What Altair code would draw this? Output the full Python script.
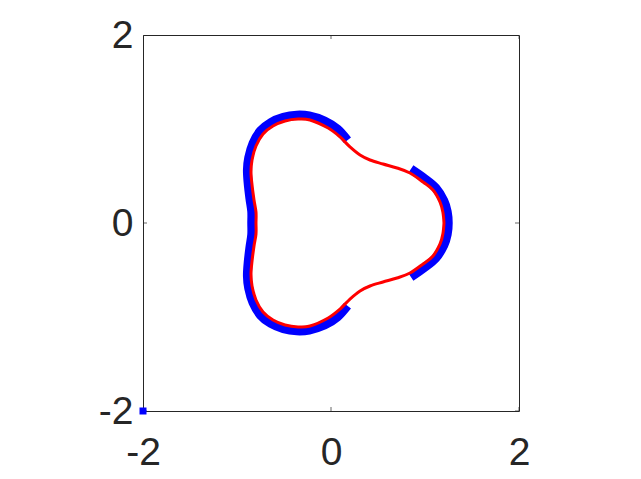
import altair as alt
import pandas as pd

# Red closed curve, counter-clockwise from right tip
red_x = [1.202, 1.190, 1.160, 1.085, 0.979, 0.840, 0.702, 0.553, 0.415, 0.309, 0.202, 0.096,
         -0.030, -0.223, -0.351, -0.489, -0.617, -0.723, -0.798, -0.840, -0.851, -0.840, -0.819,
         -0.798, -0.798,
         -0.798, -0.819, -0.840, -0.851, -0.840, -0.798, -0.723, -0.617, -0.489, -0.351, -0.223,
         -0.030, 0.096, 0.202, 0.309, 0.415, 0.553, 0.702, 0.840, 0.979, 1.085, 1.160, 1.190, 1.202]
red_y = [0.0, 0.117, 0.223, 0.351, 0.436, 0.532, 0.585, 0.628, 0.670, 0.723, 0.809, 0.915,
         1.010, 1.096, 1.106, 1.085, 1.032, 0.947, 0.819, 0.670, 0.543, 0.404, 0.245,
         0.117, 0.0,
         -0.117, -0.245, -0.404, -0.543, -0.670, -0.819, -0.947, -1.032, -1.085, -1.106, -1.096,
         -1.010, -0.915, -0.809, -0.723, -0.670, -0.628, -0.585, -0.532, -0.436, -0.351, -0.223,
         -0.117, 0.0]

# Blue bands (two arcs) just outside the red curve
blueA_x = [0.175, 0.067, -0.067, -0.232, -0.365, -0.507, -0.640, -0.750, -0.829, -0.875, -0.889,
           -0.881, -0.862, -0.843, -0.843, -0.843, -0.862, -0.881, -0.889, -0.875, -0.829, -0.750,
           -0.640, -0.507, -0.365, -0.232, -0.067, 0.067, 0.175]
blueA_y = [0.880, 1.000, 1.085, 1.138, 1.147, 1.124, 1.069, 0.981, 0.849, 0.696, 0.565,
           0.421, 0.256, 0.122, 0.0, -0.122, -0.256, -0.421, -0.565, -0.696, -0.849, -0.981,
           -1.069, -1.124, -1.147, -1.138, -1.085, -1.000, -0.880]
blueB_x = [0.850, 0.992, 1.115, 1.200, 1.236, 1.247, 1.236, 1.200, 1.115, 0.992, 0.850]
blueB_y = [0.575, 0.476, 0.373, 0.238, 0.122, 0.0, -0.122, -0.238, -0.373, -0.476, -0.575]

# Single marker at the corner
pt_x = [-2.0]
pt_y = [-2.0]

tick_vals = [-2, 0, 2]

red_df = pd.DataFrame({"x": red_x, "y": red_y, "k": list(range(len(red_x)))})
blue_df = pd.concat([
    pd.DataFrame({"x": blueA_x, "y": blueA_y, "k": list(range(len(blueA_x))), "seg": "A"}),
    pd.DataFrame({"x": blueB_x, "y": blueB_y, "k": list(range(len(blueB_x))), "seg": "B"}),
])
pt_df = pd.DataFrame({"x": pt_x, "y": pt_y})

txt = "#262626"
xscale = alt.Scale(domain=[-2, 2], nice=False, zero=False)
yscale = alt.Scale(domain=[-2, 2], nice=False, zero=False)
xaxis = alt.Axis(values=tick_vals, title=None, grid=False, domain=False, ticks=False,
                 labelFontSize=39, labelFont="Liberation Sans", labelColor=txt,
                 labelPadding=22, labelFlush=False, labelExpr="'' + datum.value")
yaxis = alt.Axis(values=tick_vals, title=None, grid=False, domain=False, ticks=False,
                 labelFontSize=39, labelFont="Liberation Sans", labelColor=txt,
                 labelPadding=10, labelFlush=False, labelExpr="'' + datum.value")

X = alt.X("x:Q", scale=xscale, axis=xaxis)
Y = alt.Y("y:Q", scale=yscale, axis=yaxis)

blue = alt.Chart(blue_df).mark_line(color="#0000ff", strokeWidth=9, strokeCap="butt",
                                    interpolate="cardinal", clip=True).encode(
    x=X, y=Y, detail="seg:N", order="k:Q")
red = alt.Chart(red_df).mark_line(color="#ff0000", strokeWidth=3, interpolate="cardinal",
                                  clip=True).encode(
    x=X, y=Y, order="k:Q")
pt = alt.Chart(pt_df).mark_square(size=49, color="#0000ff", opacity=1, filled=True).encode(
    x=X, y=Y)

ticks_df = pd.DataFrame({"t": tick_vals})
xt_bot = alt.Chart(ticks_df).mark_tick(orient="vertical", size=8, thickness=1, color=txt,
                                       clip=True).encode(
    x=alt.X("t:Q", scale=xscale, axis=xaxis), y=alt.value(376))
xt_top = alt.Chart(ticks_df).mark_tick(orient="vertical", size=8, thickness=1, color=txt,
                                       clip=True).encode(
    x=alt.X("t:Q", scale=xscale, axis=xaxis), y=alt.value(0))
yt_left = alt.Chart(ticks_df).mark_tick(orient="horizontal", size=8, thickness=1, color=txt,
                                        clip=True).encode(
    y=alt.Y("t:Q", scale=yscale, axis=yaxis), x=alt.value(0))
yt_right = alt.Chart(ticks_df).mark_tick(orient="horizontal", size=8, thickness=1, color=txt,
                                         clip=True).encode(
    y=alt.Y("t:Q", scale=yscale, axis=yaxis), x=alt.value(376))

chart = alt.layer(xt_bot, xt_top, yt_left, yt_right, blue, red, pt).properties(
    width=376, height=376,
    autosize=alt.AutoSizeParams(type="none"),
    padding={"left": 135, "top": 27, "right": 110, "bottom": 60},
    background="white",
).configure_view(stroke=txt, strokeWidth=1)

chart.save("out.html", embed_options={"renderer": "svg", "actions": False})
